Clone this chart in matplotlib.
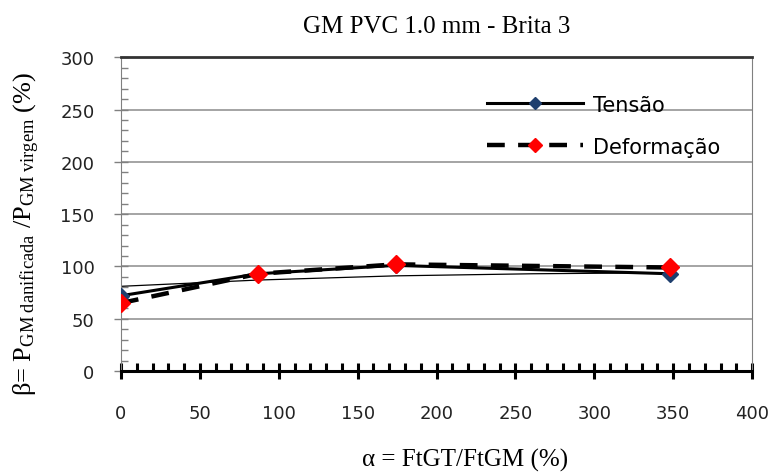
import matplotlib
matplotlib.use("Agg")
import matplotlib.pyplot as plt
from matplotlib.ticker import MultipleLocator

# values
alpha = [0, 87, 174, 348]
tensao = [72, 93, 101, 93]
deformacao = [65, 93, 102, 99]
# thin trend line (Excel style)
trend_x = [0, 87, 174, 261, 348]
trend_y = [81, 87, 91, 93, 94]

plt.rcParams['mathtext.fontset'] = 'custom'
plt.rcParams['mathtext.rm'] = 'Liberation Serif'
plt.rcParams['mathtext.it'] = 'Liberation Serif:italic'

fig = plt.figure(figsize=(7.84, 4.77), dpi=100)
ax = fig.add_axes([0.1543, 0.22, 0.805, 0.658])

ax.plot(trend_x, trend_y, color='black', lw=0.9, zorder=2)
ax.plot(alpha, tensao, color='black', lw=2.2, marker='D', markersize=8,
        markerfacecolor='#1f3f6e', markeredgecolor='#1f3f6e', label='Tensão', zorder=3)
ax.plot(alpha, deformacao, color='black', lw=3.2, ls=(0, (4, 3)), marker='D', markersize=9,
        markerfacecolor='#ff0000', markeredgecolor='#ff0000', label='Deformação', zorder=4)

ax.set_xlim(0, 400)
ax.set_ylim(0, 300)
ax.xaxis.set_major_locator(MultipleLocator(50))
ax.xaxis.set_minor_locator(MultipleLocator(10))
ax.yaxis.set_major_locator(MultipleLocator(50))
ax.yaxis.set_minor_locator(MultipleLocator(10))
ax.grid(axis='y', which='major', color='#8c8c8c', lw=1.1)
ax.set_axisbelow(True)

ax.tick_params(axis='x', which='major', direction='inout', length=12, width=2.2,
               color='black', labelsize=13, pad=18)
ax.tick_params(axis='x', which='minor', direction='in', length=6, width=2.2, color='black')
ax.tick_params(axis='y', which='major', direction='inout', length=10, width=1,
               color='#808080', labelsize=13, pad=14)
ax.tick_params(axis='y', which='minor', direction='in', length=5, width=1, color='#808080')
for lab in ax.get_xticklabels() + ax.get_yticklabels():
    lab.set_color('#222222')

ax.spines['bottom'].set_linewidth(2.2)
ax.spines['bottom'].set_color('black')
ax.spines['left'].set_color('#808080')
ax.spines['top'].set_color('#333333')
ax.spines['top'].set_linewidth(2)
ax.spines['right'].set_color('#808080')

ax.set_title('GM PVC 1.0 mm - Brita 3', family='Liberation Serif', fontsize=18, pad=18)
ax.set_xlabel('α = FtGT/FtGM (%)', family='Liberation Serif', fontsize=18)
ax.xaxis.set_label_coords(0.545, -0.245)
ax.set_ylabel(r'β= P$_{\mathrm{GM\ danificada}}$ /P$_{\mathrm{GM\ virgem}}$ (%)',
              family='Liberation Serif', fontsize=19)
ax.yaxis.set_label_coords(-0.125, 0.44)

leg = ax.legend(loc='upper left', bbox_to_anchor=(0.55, 0.94), frameon=False,
                fontsize=15, handlelength=4.6, labelspacing=1.05, handletextpad=0.5,
                markerscale=0.8)

fig.savefig('out.png', dpi=100, facecolor='white')
